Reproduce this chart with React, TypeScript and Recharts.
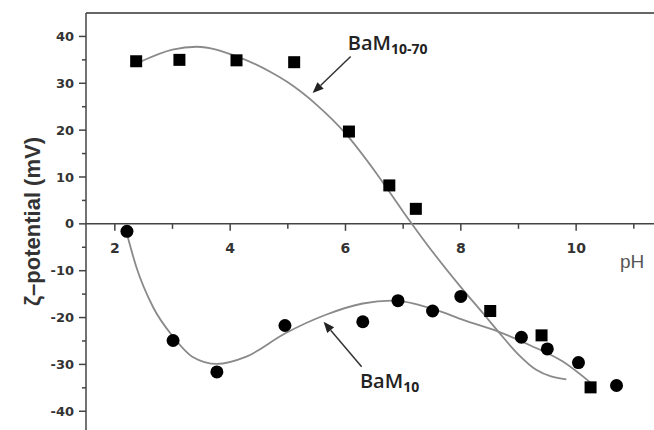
import React from "react";
import {
  ComposedChart,
  XAxis,
  YAxis,
  Line,
  Scatter,
  ReferenceLine,
  ReferenceDot,
} from "recharts";

// measured points
const bam1070Ph = [2.37, 3.12, 4.11, 5.11, 6.06, 6.76, 7.22, 8.51, 9.4, 10.25];
const bam1070Zeta = [34.7, 35.0, 34.9, 34.5, 19.7, 8.2, 3.2, -18.6, -23.8, -34.9];
const bam10Ph = [2.21, 3.01, 3.77, 4.95, 6.3, 6.91, 7.51, 8.0, 9.05, 9.5, 10.04, 10.7];
const bam10Zeta = [-1.6, -24.9, -31.6, -21.7, -20.9, -16.4, -18.6, -15.5, -24.2, -26.7, -29.6, -34.5];

// fitted curves
const fit1070Ph = [2.46, 3.0, 3.42, 4.1, 4.7, 5.0, 5.5, 6.0, 6.5, 7.0, 7.5, 8.0, 8.4, 8.65, 9.0, 9.3, 9.83];
const fit1070Zeta = [34.7, 37.2, 37.8, 35.8, 32.4, 30.2, 25.4, 19.3, 11.4, 2.6, -5.8, -13.5, -19.3, -23.0, -27.9, -31.1, -33.2];
const fit10Ph = [2.2, 2.37, 2.66, 3.01, 3.35, 3.77, 4.27, 4.95, 5.66, 6.3, 6.8, 7.58, 8.04, 8.65, 9.2, 9.77, 10.26];
const fit10Zeta = [-1.7, -9.1, -17.7, -24.1, -28.4, -29.9, -28.4, -23.4, -19.4, -17.0, -16.4, -18.4, -20.5, -23.0, -25.9, -29.4, -34.0];

// axes
const xMajor = [2, 4, 6, 8, 10];
const xMinor = [3, 5, 7, 9, 11];
const yMajor = [-40, -30, -20, -10, 0, 10, 20, 30, 40];
const yMinor = [-35, -25, -15, -5, 5, 15, 25, 35];
const xDomain: [number, number] = [1.5, 11.35];
const yDomain: [number, number] = [-44, 45];

const zip = (xs: number[], ys: number[]) => xs.map((x, i) => ({ x, y: ys[i] }));

const AXIS = "#444";
const CURVE = "#8a8a8a";
const tickFont = { fontFamily: "DejaVu Sans", fontWeight: 700 };

const Square = (p: any) => <rect x={p.cx - 6} y={p.cy - 6} width={12} height={12} fill="#000" />;
const Dot = (p: any) => <circle cx={p.cx} cy={p.cy} r={6.5} fill="#000" />;

const Arrow = (p: any) => {
  const { x1, y1, x2, y2 } = p;
  const a = Math.atan2(y2 - y1, x2 - x1);
  const L = 11;
  const W = 4.5;
  const bx = x2 - L * Math.cos(a);
  const by = y2 - L * Math.sin(a);
  const nx = -Math.sin(a) * W;
  const ny = Math.cos(a) * W;
  return (
    <g>
      <line x1={x1} y1={y1} x2={bx} y2={by} stroke="#333" strokeWidth={1.5} />
      <polygon points={`${x2},${y2} ${bx + nx},${by + ny} ${bx - nx},${by - ny}`} fill="#222" />
    </g>
  );
};

const seriesLabel = (main: string, sub: string) => (p: any) => (
  <text x={p.cx} y={p.cy} fontFamily="Open Sans" fontWeight={600} fontSize={20} fill="#222">
    {main}
    <tspan fontSize={14} fontWeight={700} dy={4}>{sub}</tspan>
  </text>
);

export default function App() {
  return (
    <div style={{ position: "absolute", left: 0, top: 0, background: "#fff" }}>
      <ComposedChart width={654} height={430} margin={{ top: 13, right: 0, bottom: 0, left: 0 }}>
        <XAxis type="number" dataKey="x" domain={xDomain} hide allowDataOverflow />
        <YAxis
          type="number"
          dataKey="y"
          domain={yDomain}
          ticks={yMajor}
          width={86}
          allowDataOverflow
          tickSize={7}
          tickMargin={5}
          axisLine={{ stroke: AXIS, strokeWidth: 1.5 }}
          tickLine={{ stroke: AXIS, strokeWidth: 1.5 }}
          tick={{ ...tickFont, fontSize: 13, fill: "#333" }}
          label={{
            content: (lp: any) => {
              const vb = lp.viewBox;
              const cx = vb.x + 32;
              const cy = vb.y + vb.height / 2;
              return (
                <text
                  x={cx}
                  y={cy}
                  transform={`rotate(-90 ${cx} ${cy})`}
                  textAnchor="middle"
                  dominantBaseline="central"
                  fontFamily="Liberation Sans"
                  fontWeight={700}
                  fontSize={22}
                  fill="#333"
                >
                  ζ–potential (mV)
                </text>
              );
            },
          }}
        />

        {/* frame top + x axis through zero */}
        <ReferenceLine y={45} stroke="#666" strokeWidth={2} />
        <ReferenceLine y={0} stroke={AXIS} strokeWidth={1.5} />

        {yMinor.map((v) => (
          <ReferenceDot
            key={`ym${v}`}
            x={xDomain[0]}
            y={v}
            ifOverflow="visible"
            shape={(p: any) => <line x1={p.cx - 4} y1={p.cy} x2={p.cx} y2={p.cy} stroke={AXIS} strokeWidth={1.5} />}
          />
        ))}
        {xMinor.map((v) => (
          <ReferenceDot
            key={`xm${v}`}
            x={v}
            y={0}
            ifOverflow="visible"
            shape={(p: any) => <line x1={p.cx} y1={p.cy} x2={p.cx} y2={p.cy + 5} stroke={AXIS} strokeWidth={1.5} />}
          />
        ))}
        {xMajor.map((v) => (
          <ReferenceDot
            key={`xM${v}`}
            x={v}
            y={0}
            ifOverflow="visible"
            shape={(p: any) => (
              <g>
                <line x1={p.cx} y1={p.cy} x2={p.cx} y2={p.cy + 7} stroke={AXIS} strokeWidth={1.5} />
                <text x={p.cx} y={p.cy + 29} textAnchor="middle" {...tickFont} fontSize={14} fill="#333">
                  {v}
                </text>
              </g>
            )}
          />
        ))}

        <Line
          data={zip(fit1070Ph, fit1070Zeta)}
          dataKey="y"
          type="monotone"
          stroke={CURVE}
          strokeWidth={1.8}
          dot={false}
          activeDot={false}
          isAnimationActive={false}
        />
        <Line
          data={zip(fit10Ph, fit10Zeta)}
          dataKey="y"
          type="monotone"
          stroke={CURVE}
          strokeWidth={1.8}
          dot={false}
          activeDot={false}
          isAnimationActive={false}
        />

        <Scatter data={zip(bam1070Ph, bam1070Zeta)} shape={Square} isAnimationActive={false} />
        <Scatter data={zip(bam10Ph, bam10Zeta)} shape={Dot} isAnimationActive={false} />

        {/* annotations */}
        <ReferenceLine segment={[{ x: 6.09, y: 35.7 }, { x: 5.43, y: 27.9 }]} shape={Arrow} ifOverflow="visible" />
        <ReferenceLine segment={[{ x: 6.28, y: -30.5 }, { x: 5.62, y: -20.9 }]} shape={Arrow} ifOverflow="visible" />
        <ReferenceDot x={6.04} y={37.2} ifOverflow="visible" shape={seriesLabel("BaM", "10-70")} />
        <ReferenceDot x={6.25} y={-35.0} ifOverflow="visible" shape={seriesLabel("BaM", "10")} />
        <ReferenceDot
          x={10.76}
          y={-9.4}
          ifOverflow="visible"
          shape={(p: any) => (
            <text x={p.cx} y={p.cy} fontFamily="Liberation Sans" fontSize={19} fill="#555">
              pH
            </text>
          )}
        />
      </ComposedChart>
    </div>
  );
}
